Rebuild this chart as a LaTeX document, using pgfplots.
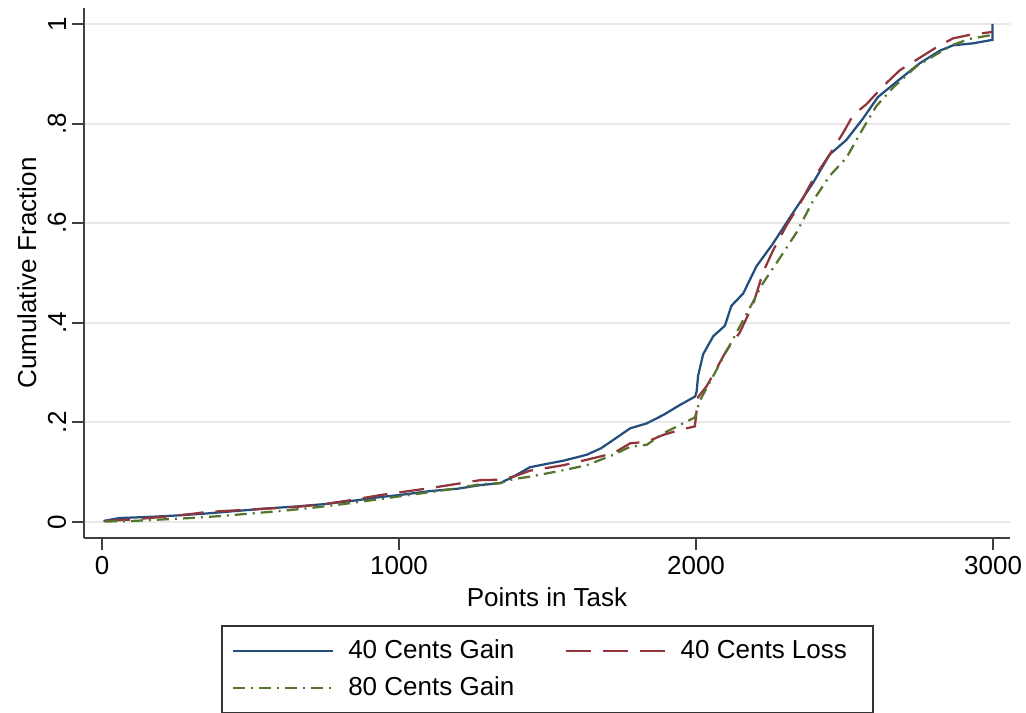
\documentclass[border=0pt]{standalone}
\usepackage{fontspec}
\setmainfont{Liberation Sans}
\usepackage{pgfplots}
\pgfplotsset{compat=1.18}

\definecolor{sblue}{RGB}{35,78,125}
\definecolor{sred}{RGB}{144,53,59}
\definecolor{sgreen}{RGB}{85,117,47}

\begin{document}
\begin{tikzpicture}
\path[use as bounding box] (-33.6pt,-70pt) rectangle (376.8pt,215.2pt);
\begin{axis}[
  at={(0,0)}, anchor=south west,
  scale only axis, width=370.4pt, height=212pt,
  xmin=-60.6, xmax=3057, ymin=-0.0321, ymax=1.032,
  axis lines=left,
  axis line style={-, draw=black!75, line width=0.8pt},
  tick align=outside, major tick length=4.8pt,
  tick style={draw=black!75, line width=0.8pt},
  xtick={0,1000,2000,3000},
  ytick={0,0.2,0.4,0.6,0.8,1},
  yticklabels={0,.2,.4,.6,.8,1},
  scaled x ticks=false,
  /pgf/number format/assume math mode=true,
  xticklabel={\pgfmathprintnumber[fixed,precision=0,1000 sep={}]{\tick}},
  ticklabel style={font=\fontsize{10.4}{12}\selectfont},
  xticklabel style={yshift=1pt},
  yticklabel style={rotate=90, anchor=south, yshift=-1.2pt},
  ymajorgrids,
  grid style={draw=black!9, line width=0.8pt},
  xlabel={Points in Task},
  ylabel={Cumulative Fraction},
  label style={font=\fontsize{10.4}{12}\selectfont},
  xlabel style={at={(axis description cs:0.5,0)}, anchor=center, yshift=-23.6pt},
  ylabel style={at={(axis description cs:-0.0616,0.5)}, anchor=center},
  legend columns=2,
  legend cell align=left,
  legend image code/.code={\draw[#1] (0pt,0pt) -- (40pt,0pt); \path (43.6pt,0pt);},
  legend style={at={(axis description cs:0.148,-0.164)}, anchor=north west,
    draw=black!80, line width=0.8pt, font=\fontsize{10.4}{12}\selectfont,
    inner xsep=4pt, inner ysep=3.5pt, row sep=1.8pt,
    /tikz/every even column/.append style={column sep=18pt}},
]
\addplot[sblue, line width=0.9pt, sharp plot] coordinates {
(5,0.002) (40,0.006) (60,0.008) (150,0.010) (250,0.013) (350,0.017) (450,0.022)
(550,0.027) (650,0.031) (750,0.036) (850,0.043) (936,0.050) (1000,0.054)
(1104,0.062) (1200,0.067) (1273,0.074) (1340,0.078) (1385,0.091) (1441,0.110)
(1500,0.117) (1553,0.123) (1632,0.135) (1680,0.148) (1722,0.165) (1778,0.188)
(1834,0.198) (1890,0.215) (1946,0.235) (1997,0.252) (2002,0.262) (2007,0.294)
(2024,0.337) (2058,0.373) (2097,0.394) (2119,0.434) (2159,0.459) (2203,0.513)
(2259,0.559) (2321,0.616) (2394,0.681) (2450,0.738) (2506,0.767) (2562,0.810)
(2612,0.853) (2663,0.878) (2753,0.921) (2820,0.946) (2865,0.957) (2932,0.961)
(2998,0.968) (2998,1.0)
};
\addlegendentry{40 Cents Gain}
\addplot[sred, line width=0.9pt, dash pattern=on 10pt off 4.8pt, sharp plot] coordinates {
(10,0.002) (100,0.005) (200,0.010) (300,0.016) (350,0.020) (500,0.025)
(650,0.030) (750,0.036) (850,0.045) (936,0.054) (1104,0.068) (1200,0.077)
(1273,0.084) (1340,0.085) (1385,0.091) (1441,0.103) (1553,0.114) (1632,0.125)
(1722,0.138) (1778,0.158) (1834,0.161) (1890,0.175) (1946,0.185) (1996,0.192)
(2007,0.251) (2035,0.272) (2069,0.308) (2102,0.344) (2147,0.380) (2192,0.437)
(2226,0.502) (2259,0.545) (2304,0.595) (2349,0.638) (2394,0.688) (2450,0.738)
(2495,0.781) (2529,0.817) (2574,0.839) (2630,0.875) (2686,0.907) (2753,0.932)
(2809,0.953) (2865,0.971) (2921,0.978) (2998,0.984)
};
\addlegendentry{40 Cents Loss\rule{4.4pt}{0pt}}
\addplot[sgreen, line width=0.9pt, dash pattern=on 4.8pt off 2.4pt on 0.8pt off 2.4pt, sharp plot] coordinates {
(10,0.001) (100,0.002) (200,0.005) (300,0.008) (400,0.012) (500,0.017)
(600,0.022) (700,0.028) (800,0.035) (936,0.046) (1104,0.060) (1200,0.068)
(1273,0.076) (1340,0.078) (1385,0.086) (1441,0.091) (1553,0.104) (1632,0.114)
(1722,0.135) (1778,0.151) (1834,0.155) (1890,0.178) (1946,0.195) (1996,0.210)
(2013,0.244) (2046,0.280) (2091,0.330) (2136,0.380) (2181,0.430) (2226,0.480)
(2282,0.530) (2338,0.581) (2394,0.645) (2450,0.695) (2506,0.731) (2562,0.790)
(2607,0.835) (2663,0.872) (2742,0.915) (2809,0.939) (2865,0.958) (2921,0.970)
(2998,0.978)
};
\addlegendentry{80 Cents Gain}
\end{axis}
\end{tikzpicture}
\end{document}
